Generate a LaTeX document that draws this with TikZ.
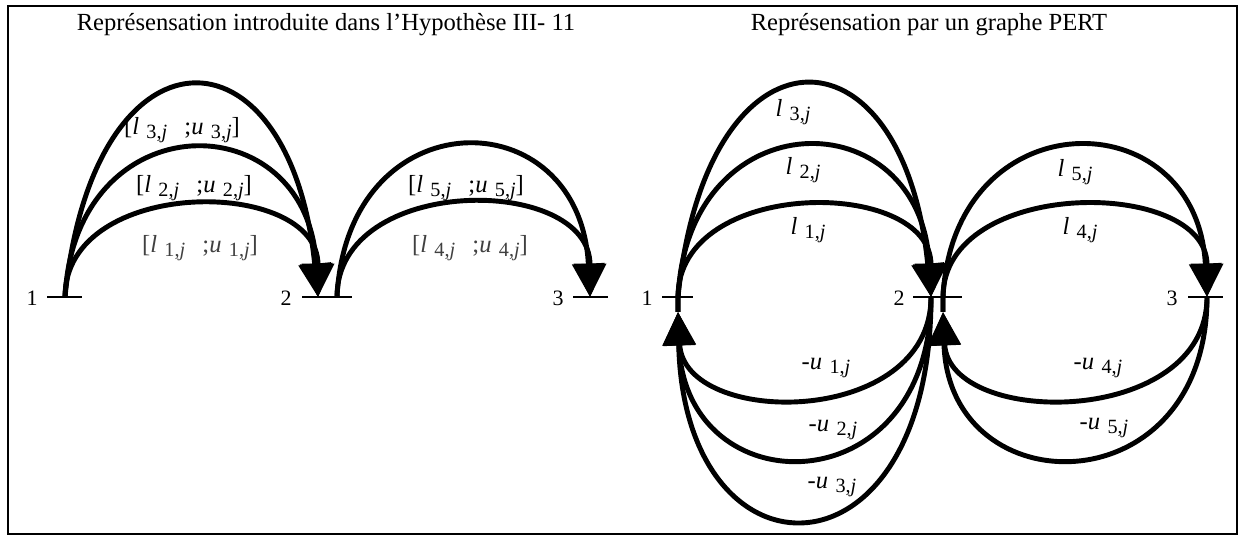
\documentclass[tikz,border=0pt]{standalone}
\usepackage{fontspec}
\setmainfont{Liberation Serif}
\usetikzlibrary{arrows.meta,calc}
\newcommand{\iv}[3][]{#1\textit{#2}\hspace{0.3em}{\fontsize{11.5}{12}\selectfont\raisebox{-0.45ex}{#3,\textit{j}}}}
\newcommand{\pairlab}[1]{[\iv{l}{#1}\hspace{0.7em};\iv{u}{#1}]}
\tikzset{
  arc/.style={line width=2.8pt,-{Triangle[length=19pt,width=18pt]}},
  tickline/.style={line width=1.6pt},
  num/.style={font=\fontsize{12.5}{13}\selectfont,inner sep=0pt},
  ttl/.style={font=\fontsize{14}{16}\selectfont,inner sep=0pt},
  lab/.style={font=\fontsize{14}{15}\selectfont,inner sep=0pt},
}
\begin{document}
\begin{tikzpicture}[x=0.02cm,y=-0.02cm]
\useasboundingbox (0,0) rectangle (1244,536);
\draw[line width=1.2pt] (8,6) rectangle (1237,534);
\node[ttl] (t1) at (326,25) {Représensation introduite dans l’Hypothèse III- 11};
\node[ttl] (t2) at (929,25) {Représensation par un graphe PERT};

% ---------- left diagram ----------
\coordinate (A1) at (65,297);
\coordinate (A2i) at (318,297);
\coordinate (A2o) at (337,297);
\coordinate (A3) at (590,297);
\node[num] (n1) at (32,298) {1};
\node[num] (n2) at (286,298) {2};
\node[num] (n3) at (558,298) {3};
\coordinate (ta1) at (47,297); \coordinate (tb1) at (82,297);
\coordinate (ta2) at (302,297); \coordinate (tb2) at (352,297);
\coordinate (ta3) at (573,297); \coordinate (tb3) at (608,297);
\draw[tickline] (ta1) -- (tb1);
\draw[tickline] (ta2) -- (tb2);
\draw[tickline] (ta3) -- (tb3);

\draw[arc] (A1) .. controls ($(A1)+(28,-280)$) and ($(A2i)+(-28,-280)$) .. (A2i);
\draw[arc] (A1) .. controls ($(A1)+(10,-196)$) and ($(A2i)+(-10,-196)$) .. (A2i);
\draw[arc] (A1) .. controls ($(A1)+(0,-121)$) and ($(A2i)+(0,-121)$) .. (A2i);
\draw[arc] (A2o) .. controls ($(A2o)+(10,-200)$) and ($(A3)+(-10,-200)$) .. (A3);
\draw[arc] (A2o) .. controls ($(A2o)+(0,-123)$) and ($(A3)+(0,-123)$) .. (A3);

\node[lab] (L3) at (182,130) {\pairlab{3}};
\node[lab] (L2) at (194,188) {\pairlab{2}};
\node[lab,text=black!75] (L1) at (200,248) {\pairlab{1}};
\node[lab] (L5) at (466,188) {\pairlab{5}};
\node[lab,text=black!75] (L4) at (470,248) {\pairlab{4}};

% ---------- right diagram ----------
\coordinate (B1) at (678,297);
\coordinate (B1b) at (678,312);
\coordinate (B2i) at (931,297);
\coordinate (B2o) at (943,297);
\coordinate (B2b) at (943,312);
\coordinate (B3) at (1207,297);
\node[num] (m1) at (647,298) {1};
\node[num] (m2) at (899,298) {2};
\node[num] (m3) at (1172,298) {3};
\coordinate (tc1) at (662,297); \coordinate (td1) at (693,297);
\coordinate (tc2) at (913,297); \coordinate (td2) at (962,297);
\coordinate (tc3) at (1188,297); \coordinate (td3) at (1223,297);
\draw[tickline] (tc1) -- (td1);
\draw[tickline] (tc2) -- (td2);
\draw[tickline] (tc3) -- (td3);

% upper arcs 1 -> 2
\draw[arc] (B1b) -- (B1) .. controls ($(B1)+(28,-281)$) and ($(B2i)+(-28,-281)$) .. (B2i);
\draw[arc] (B1b) -- (B1) .. controls ($(B1)+(10,-199)$) and ($(B2i)+(-10,-199)$) .. (B2i);
\draw[arc] (B1b) -- (B1) .. controls ($(B1)+(0,-120)$) and ($(B2i)+(0,-120)$) .. (B2i);
% upper arcs 2 -> 3
\draw[arc] (B2b) -- (B2o) .. controls ($(B2o)+(10,-199)$) and ($(B3)+(-10,-199)$) .. (B3);
\draw[arc] (B2b) -- (B2o) .. controls ($(B2o)+(0,-120)$) and ($(B3)+(0,-120)$) .. (B3);
% lower arcs 2 -> 1
\draw[arc] (B2i) .. controls ($(B2i)+(0,131)$) and ($(B1b)+(6,116)$) .. (B1b);
\draw[arc] (B2i) .. controls ($(B2i)+(0,211)$) and ($(B1b)+(6,196)$) .. (B1b);
\draw[arc] (B2i) .. controls ($(B2i)+(0,293)$) and ($(B1b)+(6,278)$) .. (B1b);
% lower arcs 3 -> 2
\draw[arc] (B3) .. controls ($(B3)+(0,131)$) and ($(B2b)+(6,116)$) .. (B2b);
\draw[arc] (B3) .. controls ($(B3)+(0,211)$) and ($(B2b)+(6,196)$) .. (B2b);

\node[lab] (R3) at (793,112) {\iv{l}{3}};
\node[lab] (R2) at (803,170) {\iv{l}{2}};
\node[lab] (R1) at (808,230) {\iv{l}{1}};
\node[lab] (R5) at (1075,172) {\iv{l}{5}};
\node[lab] (R4) at (1080,230) {\iv{l}{4}};
\node[lab] (S1) at (826,368) {\iv[-]{u}{1}};
\node[lab] (S2) at (833,430) {\iv[-]{u}{2}};
\node[lab] (S3) at (832,487) {\iv[-]{u}{3}};
\node[lab] (S4) at (1098,368) {\iv[-]{u}{4}};
\node[lab] (S5) at (1104,428) {\iv[-]{u}{5}};
\end{tikzpicture}
\end{document}
